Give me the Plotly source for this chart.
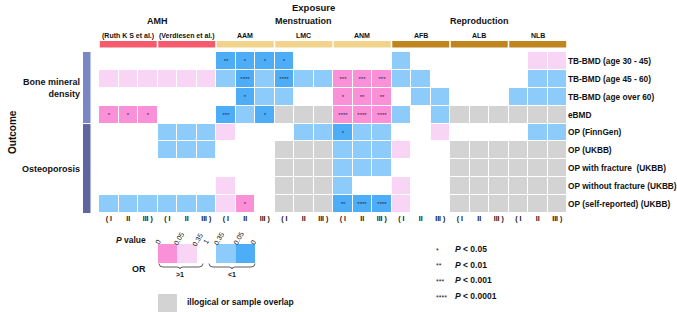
import plotly.graph_objects as go

# ---------------- data ----------------
row_labels = ["TB-BMD (age 30 - 45)", "TB-BMD (age 45 - 60)", "TB-BMD (age over 60)", "eBMD",
              "OP (FinnGen)", "OP (UKBB)", "OP with fracture  (UKBB)",
              "OP without fracture (UKBB)", "OP (self-reported) (UKBB)"]
exposures = ["(Ruth K S et al.)", "(Verdiesen et al.)", "AAM", "LMC", "ANM", "AFB", "ALB", "NLB"]
exposure_groups = ["AMH", "Menstruation", "Reproduction"]
exposure_group_sizes = [2, 3, 3]
model_ticks = ["( I", "II", "III )"]
outcome_groups = ["Bone mineral<br>density", "Osteoporosis"]
outcome_group_sizes = [4, 5]

# cell class: 0 = P>0.35, 1 = OR>1 P<0.05, 2 = OR>1 P<0.35, 3 = OR<1 P<0.35, 4 = OR<1 P<0.05, 5 = illogical/overlap
tb_bmd_30_45 = [0,0,0, 0,0,0, 4,4,4, 4,0,0, 0,0,0, 3,0,0, 0,0,0, 0,2,2]
tb_bmd_45_60 = [2,2,2, 2,2,2, 3,4,3, 4,3,3, 1,1,1, 3,3,0, 0,0,0, 0,3,3]
tb_bmd_60 = [0,0,0, 0,0,0, 0,4,3, 3,0,0, 1,1,1, 0,3,3, 0,0,0, 3,3,3]
ebmd = [1,1,1, 0,0,0, 4,3,4, 5,5,5, 1,1,1, 3,0,3, 5,5,5, 5,5,5]
op_finngen = [0,0,0, 3,3,3, 2,0,0, 0,3,3, 4,3,3, 0,0,2, 0,0,0, 0,3,3]
op_ukbb = [0,0,0, 3,3,3, 0,0,0, 5,5,5, 3,3,3, 2,0,0, 5,5,5, 5,5,5]
op_fracture = [0,0,0, 0,0,0, 0,0,0, 5,5,5, 3,3,3, 0,0,0, 5,5,5, 5,5,5]
op_no_fracture = [0,0,0, 0,0,0, 2,0,0, 5,5,5, 3,0,0, 2,0,0, 5,5,5, 5,5,5]
op_self_reported = [3,3,3, 3,3,3, 2,1,0, 5,5,5, 4,4,4, 2,0,0, 5,5,5, 5,5,5]
cell_class = [tb_bmd_30_45, tb_bmd_45_60, tb_bmd_60, ebmd, op_finngen, op_ukbb,
              op_fracture, op_no_fracture, op_self_reported]

# significance stars: (row, column, label)
stars = [(0, 6, "**"), (0, 7, "*"), (0, 8, "*"), (0, 9, "*"),
         (1, 7, "****"), (1, 9, "****"), (1, 12, "***"), (1, 13, "***"), (1, 14, "***"),
         (2, 7, "*"), (2, 12, "*"), (2, 13, "**"), (2, 14, "**"),
         (3, 0, "*"), (3, 1, "*"), (3, 2, "*"), (3, 6, "***"), (3, 8, "*"),
         (3, 12, "****"), (3, 13, "****"), (3, 14, "****"),
         (4, 12, "*"),
         (8, 7, "*"), (8, 12, "**"), (8, 13, "****"), (8, 14, "****")]

p_ticks = ["0", "0.05", "0.35", "1", "0.35", "0.05", "0"]
star_legend = ["*", "**", "***", "****"]
star_legend_text = ["<i>P</i> < 0.05", "<i>P</i> < 0.01", "<i>P</i> < 0.001", "<i>P</i> < 0.0001"]

# ---------------- style ----------------
W, H = 677, 312
FONT = "Liberation Sans, Arial, sans-serif"
C_NONE = "#FFFFFF"
C_PINK = "#F990D8"
C_LPINK = "#F8D5F4"
C_LBLUE = "#8CCBFA"
C_BLUE = "#4DADF7"
C_GREY = "#D3D3D3"
class_colors = [C_NONE, C_PINK, C_LPINK, C_LBLUE, C_BLUE, C_GREY]
group_colors = ["#F45B6D", "#F2D38B", "#C0851F"]
outcome_colors = ["#7B86C6", "#5D66A1"]

GX0, GX1, GY0, GY1 = 99, 567, 52, 213


def X(px):
    return px / W


def Y(py):
    return 1 - py / H


def note(x, y, text, size=8.5, bold=True, xref="paper", xanchor="center", color="#111", **kw):
    return dict(x=x, y=y, xref=xref, yref="paper", text=text, showarrow=False,
                xanchor=xanchor, yanchor="middle",
                font=dict(size=size, family=FONT, weight="bold" if bold else "normal", color=color), **kw)


n_rows = len(row_labels)
n_cols = len(cell_class[0])
text = [["" for _ in range(n_cols)] for _ in range(n_rows)]
for r, c, s in stars:
    text[r][c] = s

cs = []
for i, col in enumerate(class_colors):
    lo = max(0.0, (i - 0.5) / 5)
    hi = min(1.0, (i + 0.5) / 5)
    cs += [[lo, col], [hi, col]]

fig = go.Figure()
fig.add_trace(go.Heatmap(
    z=cell_class, x=list(range(n_cols)), y=list(range(n_rows)),
    colorscale=cs, zmin=0, zmax=5, showscale=False,
    xgap=1, ygap=1, text=text, texttemplate="%{text}",
    textfont=dict(size=6, color="#2a2a50", family=FONT),
    hoverinfo="skip"))

shapes = []
ann = []

# exposure header bars + labels
gap = 0.04
for i, name in enumerate(exposures):
    gi = 0 if i < 2 else (1 if i < 5 else 2)
    shapes.append(dict(type="rect", xref="x", yref="paper",
                       x0=3 * i - 0.5 + gap, x1=3 * i + 2.5 - gap, y0=Y(47.5), y1=Y(41),
                       fillcolor=group_colors[gi], line=dict(width=0)))
    ann.append(note(3 * i + 1, Y(35.5), name, size=7, xref="x"))
start = 0
for g, size in zip(exposure_groups, exposure_group_sizes):
    ann.append(note((start * 3 + (start + size) * 3 - 1) / 2, Y(21), g, size=9, xref="x"))
    start += size
ann.append(note(X(313), Y(7), "Exposure", size=9.5))

# outcome side bars + labels
start = 0
row_h = (GY1 - GY0) / n_rows
for i, (g, size) in enumerate(zip(outcome_groups, outcome_group_sizes)):
    y0 = GY0 + start * row_h + (0.5 if i else 0)
    y1 = GY0 + (start + size) * row_h - (0.5 if i == 0 else 0)
    shapes.append(dict(type="rect", xref="paper", yref="paper", x0=X(83), x1=X(90.5),
                       y0=Y(y1), y1=Y(y0), fillcolor=outcome_colors[i], line=dict(width=0)))
    ann.append(note(X(82), Y((y0 + y1) / 2), g, size=9, xanchor="right", align="right"))
    start += size
ann.append(note(X(12), Y(132), "Outcome", size=10, textangle=-90))

# P value / OR legend
ann.append(note(X(148), Y(240), "<i>P</i> value", size=8.5, xanchor="right"))
ann.append(note(X(148), Y(269), "OR", size=9, xanchor="right"))
tick_pos = [(157.5, 242), (179, 238.5), (197.5, 239), (206, 241.5), (219, 238.5), (238.5, 238.5), (253, 242)]
for t, (tx, ty) in zip(p_ticks, tick_pos):
    ann.append(note(X(tx), Y(ty), t, size=7, bold=False, textangle=-60))
for col, (bx0, bx1) in zip([C_PINK, C_LPINK, C_LBLUE, C_BLUE],
                           [(158, 177), (177, 197), (216, 235.5), (235.5, 255)]):
    shapes.append(dict(type="rect", xref="paper", yref="paper", x0=X(bx0), x1=X(bx1),
                       y0=Y(263), y1=Y(244), fillcolor=col, line=dict(width=0)))


def brace(x0, x1, xm, ytop, ymid, ytip):
    pts = (f"M{X(x0)},{Y(ytop)} Q{X(x0)},{Y(ymid)} {X(x0 + 4)},{Y(ymid)} "
           f"L{X(xm - 3)},{Y(ymid)} Q{X(xm)},{Y(ymid)} {X(xm)},{Y(ytip)} "
           f"Q{X(xm)},{Y(ymid)} {X(xm + 3)},{Y(ymid)} "
           f"L{X(x1 - 4)},{Y(ymid)} Q{X(x1)},{Y(ymid)} {X(x1)},{Y(ytop)}")
    return dict(type="path", xref="paper", yref="paper", path=pts, line=dict(color="#333", width=0.8))


shapes.append(brace(159, 203, 180, 263.5, 267, 269))
shapes.append(brace(209, 255, 232, 263.5, 267, 269))
ann.append(note(X(180), Y(274), ">1", size=7))
ann.append(note(X(232), Y(274), "<1", size=7))

shapes.append(dict(type="rect", xref="paper", yref="paper", x0=X(158), x1=X(177),
                   y0=Y(312), y1=Y(294), fillcolor=C_GREY, line=dict(width=0)))
ann.append(note(X(185), Y(302), "illogical or sample overlap", size=8.5, xanchor="left"))

# star legend
for i, (s, t) in enumerate(zip(star_legend, star_legend_text)):
    yy = 249 + i * 15.7
    ann.append(note(X(434), Y(yy + 1), s, size=7, bold=False, xanchor="left", color="#222"))
    ann.append(note(X(453), Y(yy), t, size=8.5, xanchor="left"))

fig.update_layout(
    width=W, height=H, margin=dict(l=0, r=0, t=0, b=0),
    paper_bgcolor="white", plot_bgcolor="white",
    shapes=shapes, annotations=ann, showlegend=False,
    xaxis=dict(domain=[X(GX0), X(GX1)], range=[-0.5, n_cols - 0.5], fixedrange=True,
               tickmode="array", tickvals=list(range(n_cols)), ticktext=model_ticks * len(exposures),
               tickfont=dict(size=7, family=FONT, weight="bold", color="#111"),
               showgrid=False, zeroline=False, showline=False, ticks="", tickangle=0),
    yaxis=dict(domain=[Y(GY1), Y(GY0)], range=[n_rows - 0.5, -0.5], side="right", fixedrange=True,
               tickmode="array", tickvals=list(range(n_rows)), ticktext=row_labels,
               tickfont=dict(size=8.3, family=FONT, weight="bold", color="#111"),
               showgrid=False, zeroline=False, showline=False, ticks=""),
)

fig.write_html("out.html", config={"displayModeBar": False},
               post_script="document.body.style.margin='0px';")
